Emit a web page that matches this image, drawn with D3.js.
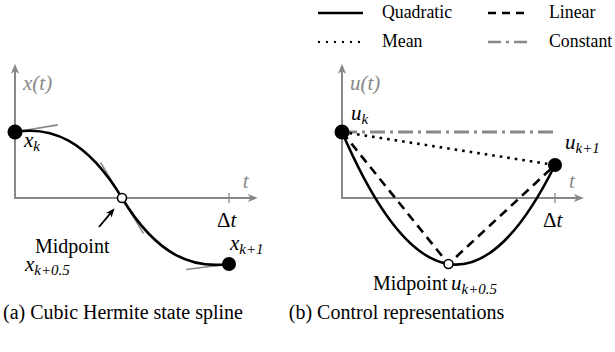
<!DOCTYPE html>
<html>
<head>
<meta charset="utf-8">
<script src="https://cdnjs.cloudflare.com/ajax/libs/d3/7.8.5/d3.min.js"></script>
<style>
  body { margin: 0; background: #fff; }
  svg { display: block; }
  .axis { stroke: #888; stroke-width: 2; fill: none; }
  .tan { stroke: #888; stroke-width: 1.6; }
  .math { font-family: "Liberation Serif", "Times New Roman", Times, "DejaVu Serif", serif; font-style: italic; font-size: 21px; }
  .rm { font-family: "Liberation Serif", "Times New Roman", Times, "DejaVu Serif", serif; font-size: 20px; }
</style>
</head>
<body>
<svg width="615" height="352"></svg>
<script>
// (a) cubic Hermite state spline: knots, values and slopes
var stateT = [0, 0.5, 1];
var stateX = [1, 0, -1];
var stateSlope = [0.54, -5.35, 0.42];
var tangentSpan = [[0, 0.2], [-0.1, 0.1], [-0.2, 0.02]];

// (b) control representations
var controlT = [0, 0.5, 1];
var controlU = [1, -1, 0.5];
var constantEnd = 1.01;

var legendNames = ["Quadratic", "Linear", "Mean", "Constant"];
var captions = ["(a) Cubic Hermite state spline", "(b) Control representations"];

var svg = d3.select("svg");
var gray = "#888";

// arrow head drawn at (x,y) pointing along angle a
function head(g, x, y, a, color, s) {
  s = s || 1;
  var pts = [[1, 0], [-9, -4], [-6.5, 0], [-9, 4]].map(function (p) {
    var px = p[0] * s, py = p[1] * s;
    return [x + px * Math.cos(a) - py * Math.sin(a), y + px * Math.sin(a) + py * Math.cos(a)];
  });
  g.append("path").attr("d", "M" + pts.join("L") + "Z").attr("fill", color);
}

function axes(g, xs, ys, tMax, vMax, yLabel) {
  g.append("line").attr("class", "axis")
    .attr("x1", xs(0)).attr("y1", ys(0)).attr("x2", xs(0)).attr("y2", ys(vMax) + 4);
  head(g, xs(0), ys(vMax), -Math.PI / 2, gray);
  g.append("line").attr("class", "axis")
    .attr("x1", xs(0) - 1).attr("y1", ys(0)).attr("x2", xs(tMax) - 4).attr("y2", ys(0));
  head(g, xs(tMax), ys(0), 0, gray);
  g.append("line").attr("stroke", gray).attr("stroke-width", 1.3)
    .attr("x1", xs(1)).attr("x2", xs(1)).attr("y1", ys(0) - 5).attr("y2", ys(0) + 5);
  g.append("text").attr("class", "math").attr("fill", gray)
    .attr("x", xs(0) + 8).attr("y", ys(vMax) + 25).text(yLabel);
  g.append("text").attr("class", "math").attr("fill", gray)
    .attr("x", xs(tMax) - 14).attr("y", ys(0) - 10).text("t");
  var dt = g.append("text").attr("class", "math").attr("x", xs(1) - 12).attr("y", ys(0) + 29);
  dt.append("tspan").attr("font-style", "normal").text("\u0394");
  dt.append("tspan").text("t");
}

function sub(g, x, y, main, s) {
  var t = g.append("text").attr("class", "math").attr("x", x).attr("y", y);
  t.append("tspan").text(main);
  t.append("tspan").style("font-size", "15px").attr("dy", 4).text(s);
  return t;
}

// ---------- panel (a)
var ga = svg.append("g");
var xa = d3.scaleLinear().domain([0, 1]).range([15, 229]);
var ya = d3.scaleLinear().domain([-1, 1]).range([264, 132]);
axes(ga, xa, ya, 1.13, 2.02, "x(t)");

// tangents
stateT.forEach(function (t, i) {
  var a = tangentSpan[i][0], b = tangentSpan[i][1];
  ga.append("line").attr("class", "tan")
    .attr("x1", xa(t + a)).attr("y1", ya(stateX[i] + stateSlope[i] * a))
    .attr("x2", xa(t + b)).attr("y2", ya(stateX[i] + stateSlope[i] * b));
});

var hp = d3.path();
hp.moveTo(xa(stateT[0]), ya(stateX[0]));
for (var i = 0; i < stateT.length - 1; i++) {
  var h = stateT[i + 1] - stateT[i];
  hp.bezierCurveTo(
    xa(stateT[i] + h / 3), ya(stateX[i] + stateSlope[i] * h / 3),
    xa(stateT[i + 1] - h / 3), ya(stateX[i + 1] - stateSlope[i + 1] * h / 3),
    xa(stateT[i + 1]), ya(stateX[i + 1]));
}
ga.append("path").attr("d", hp.toString()).attr("fill", "none")
  .attr("stroke", "#000").attr("stroke-width", 2.6);

ga.append("circle").attr("cx", xa(stateT[0])).attr("cy", ya(stateX[0])).attr("r", 7.5);
ga.append("circle").attr("cx", xa(stateT[2])).attr("cy", ya(stateX[2])).attr("r", 7);
ga.append("circle").attr("cx", xa(stateT[1])).attr("cy", ya(stateX[1])).attr("r", 4.5)
  .attr("fill", "#fff").attr("stroke", "#000").attr("stroke-width", 1.6);

var ax0 = xa(stateT[1]) - 23, ay0 = ya(stateX[1]) + 29, ax1 = xa(stateT[1]) - 8, ay1 = ya(stateX[1]) + 11;
var ang = Math.atan2(ay1 - ay0, ax1 - ax0);
ga.append("line").attr("stroke", "#000").attr("stroke-width", 1.8)
  .attr("x1", ax0).attr("y1", ay0)
  .attr("x2", ax1 - 5 * Math.cos(ang)).attr("y2", ay1 - 5 * Math.sin(ang));
head(ga, ax1, ay1, ang, "#000", 0.9);

sub(ga, 24, 147, "x", "k");
sub(ga, 230, 250, "x", "k+1");
ga.append("text").attr("class", "rm").attr("x", 35).attr("y", 253).text("Midpoint");
sub(ga, 25, 271, "x", "k+0.5");

// ---------- panel (b)
var gb = svg.append("g");
var xb = d3.scaleLinear().domain([0, 1]).range([342, 555]);
var yb = d3.scaleLinear().domain([-1, 1]).range([264, 132]);
axes(gb, xb, yb, 1.131, 2.02, "u(t)");

gb.append("line").attr("stroke", gray).attr("stroke-width", 3)
  .attr("stroke-dasharray", "15,5,3,5")
  .attr("x1", xb(0)).attr("y1", yb(controlU[0])).attr("x2", xb(constantEnd)).attr("y2", yb(controlU[0]));

gb.append("line").attr("stroke", "#000").attr("stroke-width", 2.6)
  .attr("stroke-dasharray", "2.6,5")
  .attr("x1", xb(controlT[0])).attr("y1", yb(controlU[0]))
  .attr("x2", xb(controlT[2])).attr("y2", yb(controlU[2]));

var lin = d3.line().x(function (d, i) { return xb(controlT[i]); }).y(function (d) { return yb(d); });
gb.append("path").attr("d", lin(controlU)).attr("fill", "none")
  .attr("stroke", "#000").attr("stroke-width", 2.6).attr("stroke-dasharray", "9,6");

// quadratic through the three control values
var p0 = [xb(controlT[0]), yb(controlU[0])], pm = [xb(controlT[1]), yb(controlU[1])], p2 = [xb(controlT[2]), yb(controlU[2])];
var qp = d3.path();
qp.moveTo(p0[0], p0[1]);
qp.quadraticCurveTo(2 * pm[0] - (p0[0] + p2[0]) / 2, 2 * pm[1] - (p0[1] + p2[1]) / 2, p2[0], p2[1]);
gb.append("path").attr("d", qp.toString()).attr("fill", "none")
  .attr("stroke", "#000").attr("stroke-width", 2.6);

gb.append("circle").attr("cx", p0[0]).attr("cy", p0[1]).attr("r", 7.5);
gb.append("circle").attr("cx", p2[0]).attr("cy", p2[1]).attr("r", 7);
gb.append("circle").attr("cx", pm[0]).attr("cy", pm[1]).attr("r", 4.5)
  .attr("fill", "#fff").attr("stroke", "#000").attr("stroke-width", 1.6);

sub(gb, 351, 120, "u", "k");
sub(gb, 565, 149, "u", "k+1");
gb.append("text").attr("class", "rm").attr("x", 373).attr("y", 290).text("Midpoint");
sub(gb, 451, 290, "u", "k+0.5");

// ---------- legend
var legendStyle = [
  { x: 318, y: 13, len: 45, dash: null, color: "#000", w: 2.4 },
  { x: 488, y: 13, len: 40, dash: "8,6", color: "#000", w: 2.4 },
  { x: 318, y: 42, len: 45, dash: "2,6", color: "#000", w: 2 },
  { x: 488, y: 42, len: 40, dash: "13,5,3,5", color: gray, w: 2.4 }
];
legendNames.forEach(function (name, i) {
  var s = legendStyle[i];
  svg.append("line").attr("x1", s.x).attr("x2", s.x + s.len).attr("y1", s.y).attr("y2", s.y)
    .attr("stroke", s.color).attr("stroke-width", s.w).attr("stroke-dasharray", s.dash);
  var tx = s.x + (i % 2 ? 61 : 64);
  var fs = 17.8;
  var txt = svg.append("text").attr("class", "rm").attr("x", tx).attr("y", s.y + 5)
    .style("font-size", fs + "px").text(name);
  var w = txt.node().getComputedTextLength();
  if (tx + w > 614) txt.style("font-size", (Math.floor(fs * (614 - tx) / w * 10) / 10) + "px");
});

// ---------- captions
svg.selectAll("text.cap").data(captions).enter().append("text").attr("class", "cap rm")
  .attr("x", function (d, i) { return i === 0 ? 123 : 396.5; })
  .attr("y", 319).attr("text-anchor", "middle").text(function (d) { return d; });
</script>
</body>
</html>
